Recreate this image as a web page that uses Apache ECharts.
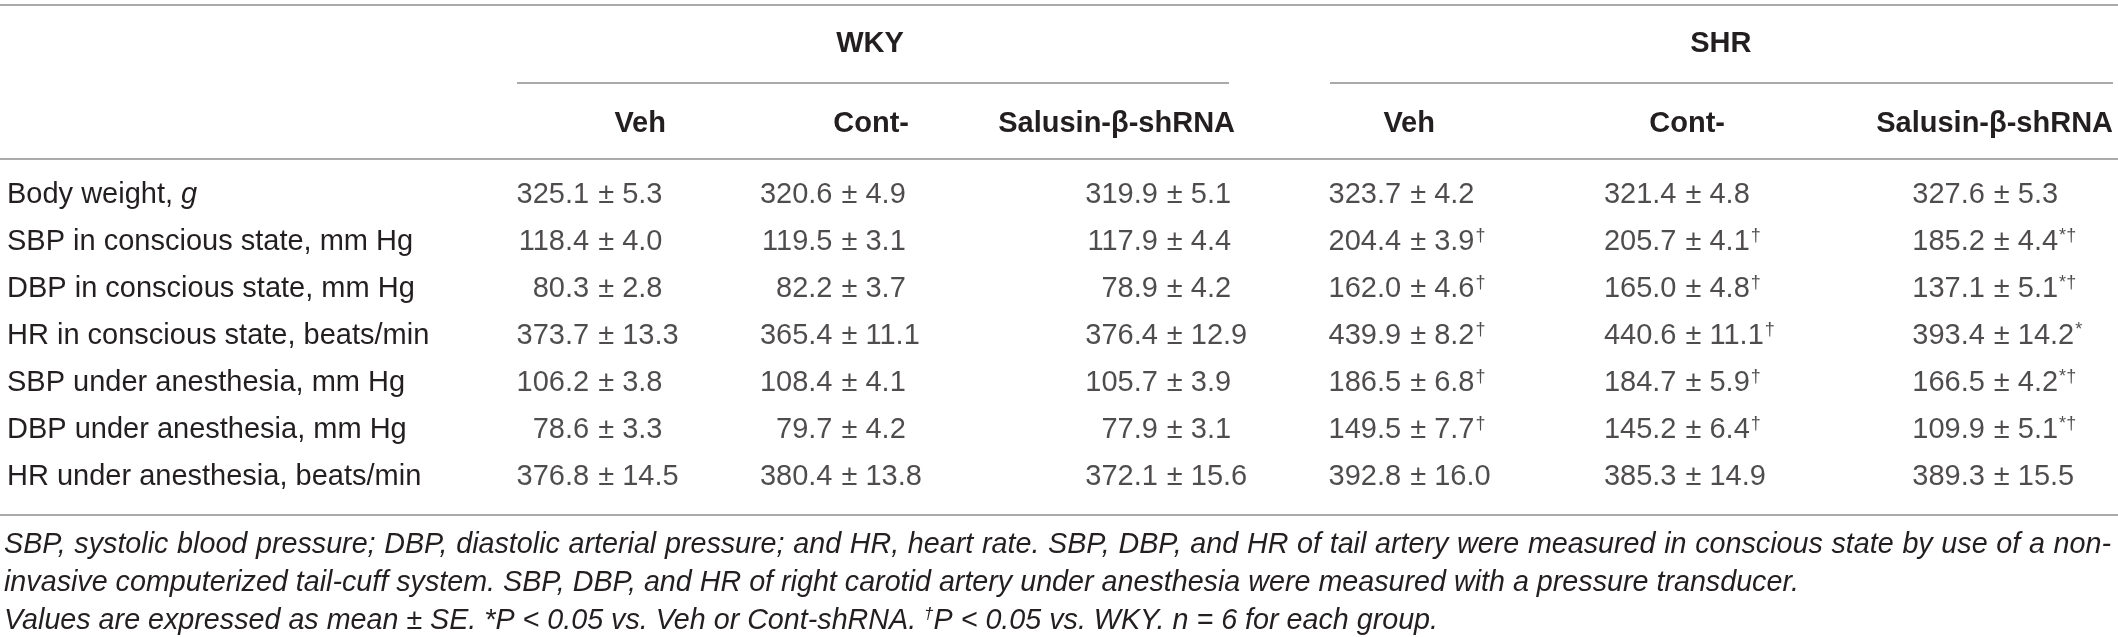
<!DOCTYPE html>
<html>
<head>
<meta charset="utf-8">
<script src="https://cdn.jsdelivr.net/npm/echarts@6/dist/echarts.min.js"></script>
<style>
  html, body { margin: 0; padding: 0; background: #ffffff; }
  #chart { width: 2118px; height: 637px; }
</style>
</head>
<body>
<div id="chart"></div>
<script>
// filas de la tabla
const rowLabels = [
  'Body weight, g',
  'SBP in conscious state, mm Hg',
  'DBP in conscious state, mm Hg',
  'HR in conscious state, beats/min',
  'SBP under anesthesia, mm Hg',
  'DBP under anesthesia, mm Hg',
  'HR under anesthesia, beats/min'
];
const groups = ['WKY', 'SHR'];
const columns = ['Veh', 'Cont-', 'Salusin-β-shRNA', 'Veh', 'Cont-', 'Salusin-β-shRNA'];

// media y error estándar por columna
const wkyVehMean = [325.1, 118.4, 80.3, 373.7, 106.2, 78.6, 376.8];
const wkyVehSE   = [5.3, 4.0, 2.8, 13.3, 3.8, 3.3, 14.5];
const wkyContMean = [320.6, 119.5, 82.2, 365.4, 108.4, 79.7, 380.4];
const wkyContSE   = [4.9, 3.1, 3.7, 11.1, 4.1, 4.2, 13.8];
const wkySalMean = [319.9, 117.9, 78.9, 376.4, 105.7, 77.9, 372.1];
const wkySalSE   = [5.1, 4.4, 4.2, 12.9, 3.9, 3.1, 15.6];
const shrVehMean = [323.7, 204.4, 162.0, 439.9, 186.5, 149.5, 392.8];
const shrVehSE   = [4.2, 3.9, 4.6, 8.2, 6.8, 7.7, 16.0];
const shrContMean = [321.4, 205.7, 165.0, 440.6, 184.7, 145.2, 385.3];
const shrContSE   = [4.8, 4.1, 4.8, 11.1, 5.9, 6.4, 14.9];
const shrSalMean = [327.6, 185.2, 137.1, 393.4, 166.5, 109.9, 389.3];
const shrSalSE   = [5.3, 4.4, 5.1, 14.2, 4.2, 5.1, 15.5];

// marcas de significación
const noMarks   = ['', '', '', '', '', '', ''];
const shrMarks  = ['', '†', '†', '†', '†', '†', ''];
const salMarks  = ['', '*†', '*†', '*', '*†', '*†', ''];

const footnotes = [
  'SBP, systolic blood pressure; DBP, diastolic arterial pressure; and HR, heart rate. SBP, DBP, and HR of tail artery were measured in conscious state by use of a non-',
  'invasive computerized tail-cuff system. SBP, DBP, and HR of right carotid artery under anesthesia were measured with a pressure transducer.',
  'Values are expressed as mean ± SE. *P < 0.05 vs. Veh or Cont-shRNA. {sup|†}P < 0.05 vs. WKY. n = 6 for each group.'
];

const means = [wkyVehMean, wkyContMean, wkySalMean, shrVehMean, shrContMean, shrSalMean];
const ses = [wkyVehSE, wkyContSE, wkySalSE, shrVehSE, shrContSE, shrSalSE];
const marks = [noMarks, noMarks, noMarks, shrMarks, shrMarks, salMarks];

// ajuste fino de cada columna respecto al centro de la categoría (px)
const colNudge = [-3, -37, 11, -23, -25, 6];

const FONT = "'Liberation Sans', Arial, sans-serif";
const INK = '#231f20';
const RULE = '#8e8e8e';
const FS = 29;
const FOOT_FS = 28.7;
const FOOT_Y = [545, 583, 621];

const cells = [];
means.forEach((col, j) => {
  col.forEach((m, i) => {
    cells.push({ value: [j, i, m, ses[j][i], marks[j][i]], label: { offset: [colNudge[j], 0] } });
  });
});

const colKeys = columns.map((c, j) => (j < 3 ? 'WKY ' : 'SHR ') + c);

// primera línea de la nota justificada: medir palabras y repartir el espacio
const footStyle = { fontFamily: FONT, fontSize: FOOT_FS, fontStyle: 'italic', fill: INK, align: 'left', verticalAlign: 'middle' };
const ctx = document.createElement('canvas').getContext('2d');
ctx.font = 'italic ' + FOOT_FS + 'px ' + FONT;
const words = footnotes[0].split(' ');
const wWidths = words.map(w => ctx.measureText(w).width);
const x0 = 4, x1 = 2111;
const gap = (x1 - x0 - wWidths.reduce((a, b) => a + b, 0)) / (words.length - 1);
let cx = x0;
const justified = words.map((w, k) => {
  const el = { type: 'text', x: cx, y: FOOT_Y[0], style: { ...footStyle, text: w } };
  cx += wWidths[k] + gap;
  return el;
});

const container = document.getElementById('chart');
const chart = echarts.init(container);

const baseText = { fontFamily: FONT, fontSize: FS, color: INK };

const option = {
  backgroundColor: '#ffffff',
  animation: false,
  grid: { left: 454, right: 0, top: 171.5, bottom: 136.5, outerBoundsMode: 'none', containLabel: false },
  xAxis: [
    {
      type: 'category', position: 'top', data: colKeys,
      axisLine: { show: false }, axisTick: { show: false }, splitLine: { show: false },
      axisLabel: {
        interval: 0, margin: 47.5, verticalAlign: 'middle', hideOverlap: false,
        formatter: (v, i) => '{h' + i + '|' + columns[i] + '}',
        rich: {
          h0: { ...baseText, fontWeight: 'bold', width: 146.6, align: 'right' },
          h1: { ...baseText, fontWeight: 'bold', width: 78, align: 'right' },
          h2: { ...baseText, fontWeight: 'bold', width: 175.4, align: 'right' },
          h3: { ...baseText, fontWeight: 'bold', width: 20.6, align: 'right' },
          h4: { ...baseText, fontWeight: 'bold', width: 46, align: 'right' },
          h5: { ...baseText, fontWeight: 'bold', width: 267.4, align: 'right' }
        }
      }
    },
    {
      type: 'category', position: 'top', data: groups, gridIndex: 0,
      axisLine: { show: false }, axisTick: { show: false }, splitLine: { show: false },
      axisLabel: {
        interval: 0, margin: 127.5, verticalAlign: 'middle',
        formatter: (v, i) => '{g' + i + '|' + v + '}',
        rich: {
          g0: { ...baseText, fontWeight: 'bold', align: 'center' },
          g1: { ...baseText, fontWeight: 'bold', width: 99, align: 'right' }
        }
      }
    }
  ],
  yAxis: {
    type: 'category', data: rowLabels, inverse: true,
    axisLine: { show: false }, axisTick: { show: false }, splitLine: { show: false },
    axisLabel: {
      interval: 0, margin: 447, align: 'left', ...baseText,
      formatter: v => v === 'Body weight, g' ? '{t|Body weight, }{i|g}' : v,
      rich: {
        t: { ...baseText },
        i: { ...baseText, fontStyle: 'italic' }
      }
    }
  },
  series: [
    {
      // media, alineada a la derecha del punto
      type: 'scatter', xAxisIndex: 0, symbolSize: 1,
      itemStyle: { color: 'rgba(0,0,0,0)' },
      data: cells,
      label: {
        show: true, position: 'left', distance: 0, ...baseText,
        formatter: p => p.value[2].toFixed(1)
      }
    },
    {
      // ± error estándar y marcas
      type: 'scatter', xAxisIndex: 0, symbolSize: 1,
      itemStyle: { color: 'rgba(0,0,0,0)' },
      data: cells,
      label: {
        show: true, position: 'right', distance: 8, ...baseText, lineHeight: 30,
        formatter: p => '± ' + p.value[3].toFixed(1) + (p.value[4] ? '{sup|' + p.value[4] + '}' : ''),
        rich: {
          sup: { fontFamily: FONT, fontSize: 18, color: INK, verticalAlign: 'top', lineHeight: 30, padding: [0, 0, 0, 1] }
        }
      }
    }
  ],
  graphic: [
    // reglas horizontales
    { type: 'line', shape: { x1: 0, y1: 5, x2: 2118, y2: 5 }, style: { stroke: RULE, lineWidth: 1.5 } },
    { type: 'line', shape: { x1: 517, y1: 83, x2: 1229, y2: 83 }, style: { stroke: RULE, lineWidth: 1.5 } },
    { type: 'line', shape: { x1: 1330, y1: 83, x2: 2113, y2: 83 }, style: { stroke: RULE, lineWidth: 1.5 } },
    { type: 'line', shape: { x1: 0, y1: 159, x2: 2118, y2: 159 }, style: { stroke: RULE, lineWidth: 1.5 } },
    { type: 'line', shape: { x1: 0, y1: 515, x2: 2118, y2: 515 }, style: { stroke: RULE, lineWidth: 1.5 } },
    // notas al pie
    ...justified,
    ...[1, 2].map(k => ({
      type: 'text', x: 4, y: FOOT_Y[k],
      style: {
        ...footStyle, text: footnotes[k],
        rich: { sup: { fontFamily: FONT, fontSize: 17, fontStyle: 'italic', fill: INK, verticalAlign: 'top', lineHeight: 30 } }
      }
    }))
  ]
};

chart.setOption(option);
window.onresize = function () { chart.resize(); };
</script>
</body>
</html>
